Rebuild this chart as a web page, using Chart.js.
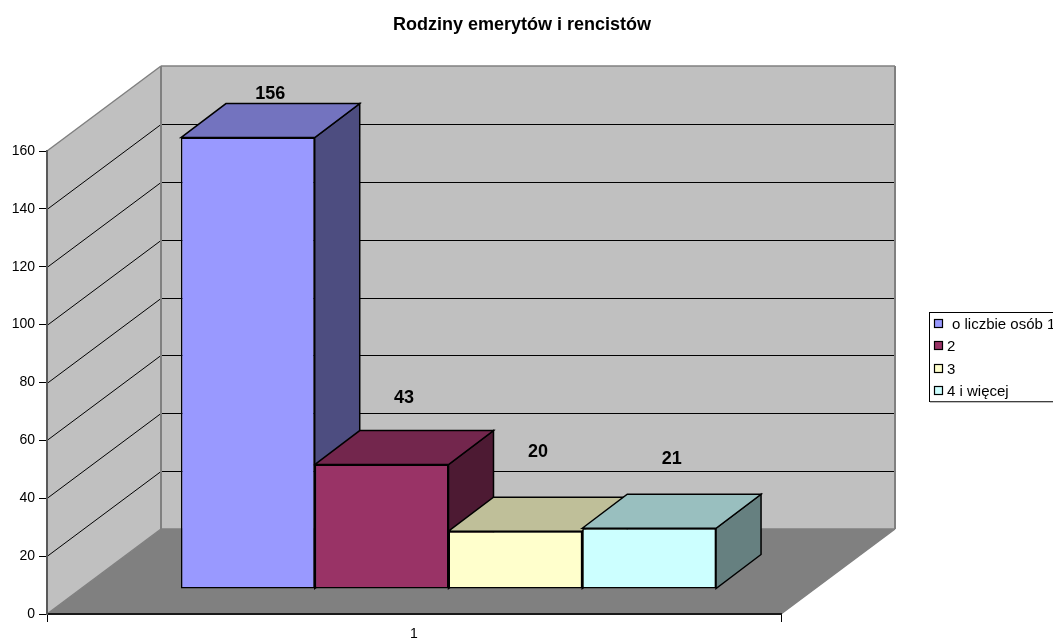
<!DOCTYPE html>
<html>
<head>
<meta charset="utf-8">
<title>Rodziny emerytów i rencistów</title>
<script src="https://cdn.jsdelivr.net/npm/chart.js@4"></script>
<style>
    html, body { margin: 0; padding: 0; background: #fff; overflow: hidden; }
    #wrap { width: 1053px; height: 638px; }
</style>
</head>
<body>
<div id="wrap"><canvas id="chart" width="1053" height="638"></canvas></div>
<script>
const categories = ['1'];
const seriesNames = ['o liczbie osób 1', '2', '3', '4 i więcej'];
const seriesValues = [[156], [43], [20], [21]];
const tickStep = 20;
const axisMax = 160;
const chartTitle = 'Rodziny emerytów i rencistów';

const frontColors = ['#9999FF', '#993366', '#FFFFCC', '#CCFFFF'];
const topColors = ['#7373BF', '#73264D', '#BFBF99', '#99BFBF'];
const sideColors = ['#4D4D80', '#4D1A33', '#808066', '#668080'];

const FONT = "'Liberation Sans', Arial, sans-serif";
const WALL = { dx: 114, dy: 85 };      // depth of the whole floor
const BAR_SHIFT = { dx: 34.5, dy: 25 }; // bars stand this far back from the front edge
const BAR_DEPTH = { dx: 45, dy: 34 };
const LABEL_RAISE = [11, 34, 46, 36];   // value labels float above the bar, unevenly

function poly(ctx, pts, fill, stroke, lw) {
    ctx.beginPath();
    pts.forEach((p, i) => i ? ctx.lineTo(p[0], p[1]) : ctx.moveTo(p[0], p[1]));
    ctx.closePath();
    if (fill) { ctx.fillStyle = fill; ctx.fill(); }
    if (stroke) { ctx.strokeStyle = stroke; ctx.lineWidth = lw; ctx.stroke(); }
}

function line(ctx, x1, y1, x2, y2, color, lw) {
    ctx.beginPath();
    ctx.moveTo(x1, y1);
    ctx.lineTo(x2, y2);
    ctx.strokeStyle = color;
    ctx.lineWidth = lw;
    ctx.stroke();
}

// walls and floor, drawn before the axes
const wallsPlugin = {
    id: 'walls',
    afterLayout(chart) {
        chart.titleBlock.left = 0;
        chart.titleBlock.right = 1044;
    },
    beforeDraw(chart) {
        const { ctx, chartArea: a, scales } = chart;
        const y = scales.y;
        const { dx, dy } = WALL;
        ctx.save();
        poly(ctx, [[a.left + dx, a.top - dy], [a.right + dx, a.top - dy], [a.right + dx, a.bottom - dy], [a.left + dx, a.bottom - dy]], '#C0C0C0');
        poly(ctx, [[a.left, a.top], [a.left + dx, a.top - dy], [a.left + dx, a.bottom - dy], [a.left, a.bottom]], '#C0C0C0');
        poly(ctx, [[a.left, a.bottom], [a.left + dx, a.bottom - dy], [a.right + dx, a.bottom - dy], [a.right, a.bottom]], '#808080');
        y.ticks.forEach(t => {
            if (t.value === 0 || t.value === axisMax) return;
            const py = Math.round(y.getPixelForValue(t.value)) + 0.5;
            line(ctx, a.left, py, a.left + dx, py - dy, '#000', 1);
            line(ctx, a.left + dx, py - dy, a.right + dx, py - dy, '#000', 1);
        });
        // wall outline
        line(ctx, a.left, a.top, a.left + dx, a.top - dy, '#808080', 1.5);
        line(ctx, a.left + dx, a.top - dy, a.right + dx, a.top - dy, '#808080', 1.5);
        line(ctx, a.left + dx, a.top - dy, a.left + dx, a.bottom - dy, '#808080', 2);
        line(ctx, a.right + dx, a.top - dy, a.right + dx, a.bottom - dy, '#808080', 2);
        line(ctx, a.left, a.bottom, a.left + dx, a.bottom - dy, '#808080', 1.5);
        line(ctx, a.left + dx, a.bottom - dy, a.right + dx, a.bottom - dy, '#808080', 1.5);
        line(ctx, a.right, a.bottom, a.right + dx, a.bottom - dy, '#808080', 1.5);
        ctx.restore();
    }
};

// top and side of each bar go down first, the library then paints the fronts over them
const bar3dPlugin = {
    id: 'bar3d',
    beforeDatasetsDraw(chart) {
        const ctx = chart.ctx;
        const { dx, dy } = BAR_DEPTH;
        ctx.save();
        ctx.translate(BAR_SHIFT.dx, -BAR_SHIFT.dy);
        ctx.lineJoin = 'miter';
        seriesNames.forEach((name, i) => {
            const bar = chart.getDatasetMeta(i).data[0];
            const l = bar.x - bar.width / 2, r = bar.x + bar.width / 2;
            poly(ctx, [[r, bar.y], [r + dx, bar.y - dy], [r + dx, bar.base - dy], [r, bar.base]], sideColors[i], '#000', 1.5);
            poly(ctx, [[l, bar.y], [l + dx, bar.y - dy], [r + dx, bar.y - dy], [r, bar.y]], topColors[i], '#000', 1.5);
        });
        ctx.restore();
    },
    beforeDatasetDraw(chart) {
        chart.ctx.save();
        chart.ctx.translate(BAR_SHIFT.dx, -BAR_SHIFT.dy);
    },
    afterDatasetDraw(chart) {
        chart.ctx.restore();
    },
    afterDatasetsDraw(chart) {
        const ctx = chart.ctx;
        ctx.save();
        ctx.font = 'bold 18px ' + FONT;
        ctx.fillStyle = '#000';
        ctx.textAlign = 'center';
        ctx.textBaseline = 'alphabetic';
        seriesNames.forEach((name, i) => {
            const bar = chart.getDatasetMeta(i).data[0];
            const cx = bar.x + BAR_SHIFT.dx + BAR_DEPTH.dx / 2;
            const topY = bar.y - BAR_SHIFT.dy - BAR_DEPTH.dy;
            ctx.fillText(String(seriesValues[i][0]), cx, topY - LABEL_RAISE[i] + 6);
        });
        ctx.restore();
    }
};

// legend box runs off the right edge of the picture, as in the original
const legendPlugin = {
    id: 'sideLegend',
    afterDraw(chart) {
        const ctx = chart.ctx;
        const rowY = [324, 346, 369, 391];
        ctx.save();
        ctx.fillStyle = '#fff';
        ctx.fillRect(929, 312, 140, 90);
        ctx.strokeStyle = '#000';
        ctx.lineWidth = 1;
        ctx.strokeRect(929.5, 312.5, 140, 89);
        line(ctx, 930, 402, 1053, 402, '#808080', 1);
        ctx.font = '15px ' + FONT;
        ctx.textAlign = 'left';
        ctx.textBaseline = 'middle';
        seriesNames.forEach((name, i) => {
            ctx.fillStyle = frontColors[i];
            ctx.fillRect(934.5, rowY[i] - 4.5, 8, 8);
            ctx.strokeStyle = '#000';
            ctx.lineWidth = 1.2;
            ctx.strokeRect(934.5, rowY[i] - 4.5, 8, 8);
            ctx.fillStyle = '#000';
            ctx.fillText(name, i === 0 ? 952 : 947, rowY[i] + 1);
        });
        ctx.restore();
    }
};

new Chart(document.getElementById('chart'), {
    type: 'bar',
    data: {
        labels: categories,
        datasets: seriesNames.map((name, i) => ({
            label: name,
            data: seriesValues[i],
            backgroundColor: frontColors[i],
            borderColor: '#000',
            borderWidth: 1.5,
            borderSkipped: false,
            barPercentage: 1,
            categoryPercentage: 0.729,
            clip: false
        }))
    },
    options: {
        responsive: false,
        animation: false,
        devicePixelRatio: 1,
        layout: { padding: { left: 0, right: 272, top: 0, bottom: 0 } },
        plugins: {
            legend: { display: false },
            tooltip: { enabled: false },
            title: {
                display: true,
                text: chartTitle,
                color: '#000',
                font: { family: FONT, size: 18, weight: 'bold' },
                padding: { top: 14, bottom: 115.4 }
            }
        },
        scales: {
            x: {
                afterFit(scale) { scale.height = 24; },
                border: { color: '#1a1a1a', width: 2 },
                grid: { drawOnChartArea: false, tickLength: 8, tickColor: '#000' },
                ticks: { color: '#000', font: { family: FONT, size: 14 }, padding: 4, maxRotation: 0 }
            },
            y: {
                min: 0,
                max: axisMax,
                afterFit(scale) { scale.width = 47; },
                border: { color: '#595959', width: 2 },
                grid: { drawOnChartArea: false, tickLength: 8, tickColor: '#000' },
                ticks: { stepSize: tickStep, color: '#000', font: { family: FONT, size: 14 }, padding: 4 }
            }
        }
    },
    plugins: [wallsPlugin, bar3dPlugin, legendPlugin]
});
</script>
</body>
</html>
